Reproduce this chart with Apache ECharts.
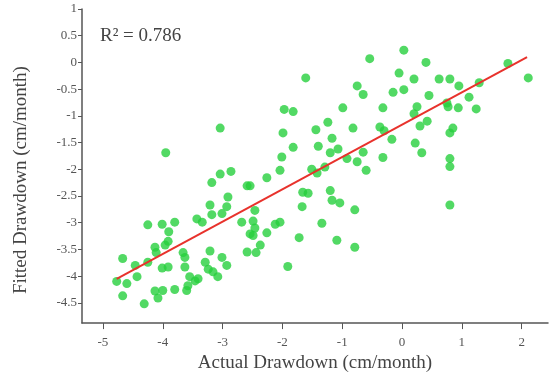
<!DOCTYPE html>
<html>
<head>
<meta charset="utf-8">
<script src="https://cdn.jsdelivr.net/npm/echarts@6/dist/echarts.min.js"></script>
<style>
  html, body { margin: 0; padding: 0; background: #fff; }
  #chart { width: 550px; height: 378px; }
</style>
</head>
<body>
<div id="chart"></div>
<script>
// tick labels
const xTicks = [-5, -4, -3, -2, -1, 0, 1, 2];
const yTicks = [-4.5, -4, -3.5, -3, -2.5, -2, -1.5, -1, -0.5, 0, 0.5, 1];

// observed points: [actual drawdown, fitted drawdown] (cm/month)
const points = [
    [0.03, 0.23], [0.40, 0.00], [-0.05, -0.20], [0.20, -0.31], [0.62, -0.31],
    [0.80, -0.31], [0.95, -0.44], [1.77, -0.02], [2.11, -0.29], [-0.15, -0.56],
    [0.03, -0.51], [0.45, -0.62], [1.12, -0.65], [0.25, -0.83], [0.20, -0.96],
    [0.75, -0.76], [0.77, -0.83], [0.94, -0.85], [1.24, -0.87], [1.29, -0.38],
    [0.42, -1.10], [0.30, -1.19], [0.85, -1.23], [0.80, -1.32], [-0.17, -1.44],
    [0.22, -1.51], [0.33, -1.69], [0.80, -1.80], [0.80, -1.95], [0.80, -2.67],
    [-0.54, 0.07],
    [-1.61, -0.29], [-0.75, -0.44], [-0.65, -0.60], [-1.97, -0.88], [-1.82, -0.92],
    [-0.99, -0.85], [-0.32, -0.85], [-1.24, -1.12], [-1.44, -1.26], [-0.82, -1.23],
    [-1.99, -1.32], [-0.37, -1.21], [-0.30, -1.28], [-1.17, -1.42], [-1.82, -1.59],
    [-1.40, -1.57], [-1.07, -1.62], [-1.20, -1.69], [-0.65, -1.68], [-2.01, -1.77],
    [-0.92, -1.80], [-0.75, -1.86], [-0.32, -1.78], [-0.60, -2.02], [-2.04, -2.02],
    [-1.51, -2.00], [-1.29, -1.96], [-1.42, -2.07], [-2.26, -2.16], [-2.54, -2.31],
    [-1.66, -2.43], [-1.57, -2.45], [-1.20, -2.40], [-1.17, -2.58], [-1.04, -2.63],
    [-1.67, -2.70], [-0.79, -2.76], [-2.46, -2.77], [-2.49, -2.97], [-2.46, -3.10],
    [-2.12, -3.03], [-2.04, -2.99], [-1.34, -3.01], [-2.26, -3.19], [-2.49, -3.24],
    [-1.72, -3.28], [-1.09, -3.33], [-0.79, -3.46], [-2.37, -3.42], [-2.44, -3.56],
    [-1.91, -3.82],
    [-3.04, -1.23], [-3.95, -1.69], [-3.04, -2.09], [-2.86, -2.04], [-3.18, -2.25],
    [-2.59, -2.31], [-2.91, -2.52], [-3.21, -2.67], [-2.93, -2.70], [-3.01, -2.83],
    [-3.18, -2.85], [-3.43, -2.93], [-3.34, -2.99], [-2.68, -2.99], [-2.54, -3.21],
    [-4.25, -3.04], [-4.01, -3.03], [-3.80, -2.99], [-3.90, -3.17], [-3.91, -3.35],
    [-4.13, -3.46], [-3.96, -3.42], [-3.21, -3.53], [-2.59, -3.55], [-3.66, -3.56],
    [-3.63, -3.65], [-4.11, -3.56], [-4.67, -3.67], [-4.46, -3.80], [-4.25, -3.74],
    [-3.29, -3.74], [-3.24, -3.87], [-3.16, -3.92], [-3.01, -3.65], [-2.93, -3.80],
    [-4.01, -3.85], [-3.91, -3.83], [-3.63, -3.83], [-4.43, -4.01], [-4.77, -4.10],
    [-4.60, -4.14], [-3.55, -4.01], [-3.46, -4.09], [-3.58, -4.18], [-3.41, -4.05],
    [-3.08, -4.01], [-3.80, -4.25], [-3.60, -4.27], [-4.13, -4.28], [-4.00, -4.27],
    [-4.08, -4.41], [-4.67, -4.37], [-4.31, -4.52]
];

// regression line end points
const fitLine = [[-4.77, -4.05], [2.09, 0.10]];

const chart = echarts.init(document.getElementById("chart"));

const axisText = { fontFamily: "Liberation Serif", color: "#555", fontSize: 13 };

chart.setOption({
    animation: false,
    grid: { left: 82, right: 2, top: 9, bottom: 47 },
    graphic: [
        {
            type: "text",
            left: 100,
            top: 27,
            style: {
                text: "R\u00b2 = 0.786",
                font: '19px "Liberation Serif"',
                fill: "#444",
            },
        },
    ],
    xAxis: {
        type: "value",
        min: -5.35,
        max: 2.44,
        name: "Actual Drawdown (cm/month)",
        nameLocation: "middle",
        nameGap: 24,
        nameTextStyle: { fontFamily: "Liberation Serif", fontSize: 19, color: "#444" },
        axisLine: { onZero: false, lineStyle: { color: "#555", width: 1.5 } },
        axisTick: { customValues: xTicks, length: 6, lineStyle: { color: "#555" } },
        axisLabel: Object.assign({ customValues: xTicks, margin: 13 }, axisText),
        splitLine: { show: false },
    },
    yAxis: {
        type: "value",
        min: -4.88,
        max: 1,
        name: "Fitted Drawdown (cm/month)",
        nameLocation: "middle",
        nameGap: 51,
        nameTextStyle: {
            fontFamily: "Liberation Serif",
            fontSize: 19,
            color: "#444",
            padding: [0, 28, 0, 0],
        },
        axisLine: { show: true, onZero: false, lineStyle: { color: "#555", width: 1.5 } },
        axisTick: { customValues: yTicks, length: 4, lineStyle: { color: "#555" } },
        axisLabel: Object.assign({ customValues: yTicks, margin: 5 }, axisText),
        splitLine: { show: false },
    },
    series: [
        {
            type: "scatter",
            data: points,
            symbolSize: 9,
            itemStyle: { color: "#27cf3d" },
            z: 2,
        },
        {
            type: "line",
            data: fitLine,
            symbol: "none",
            lineStyle: { color: "#e8322c", width: 2 },
            z: 3,
        },
    ],
});
</script>
</body>
</html>
